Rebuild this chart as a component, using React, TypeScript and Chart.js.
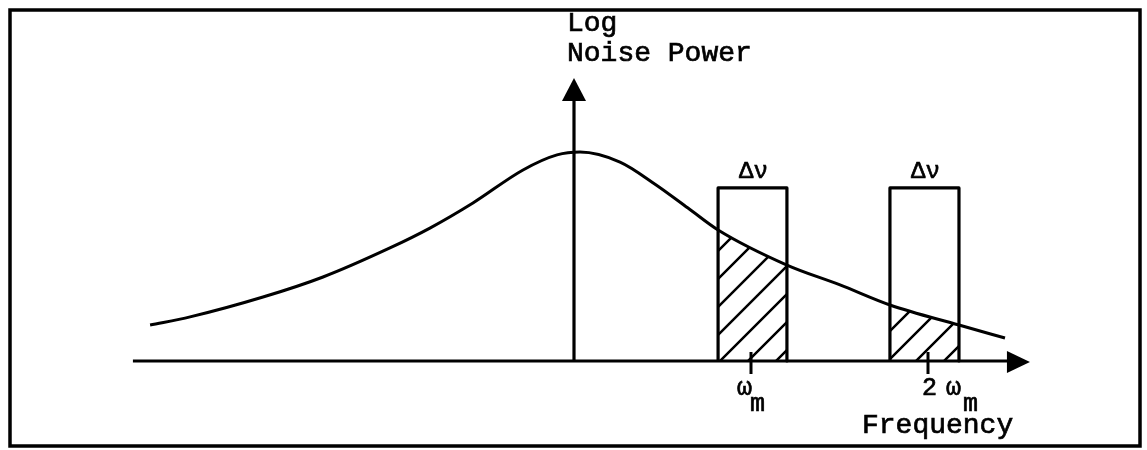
import React, { useEffect, useRef } from "react";
import { Chart, registerables } from "chart.js";

Chart.register(...registerables);

// Noise power spectrum (x in units of ω_m, y relative to peak)
const curveX = [-2.395, -2.169, -1.757, -1.418, -1.04, -0.814, -0.571, -0.288, -0.096, 0.034, 0.26, 0.458, 0.644, 0.814, 1.203, 1.503, 1.785, 2.175, 2.435];
const curveY = [0.172, 0.211, 0.306, 0.402, 0.541, 0.636, 0.756, 0.914, 0.986, 1.0, 0.952, 0.846, 0.732, 0.627, 0.459, 0.364, 0.268, 0.172, 0.11];

// Detection bandwidth windows Δν
const boxStarts = [0.814, 1.785];
const boxEnds = [1.203, 2.175];
const boxTop = 0.828;

// Axis extents
const xAxisStart = -2.492;
const xAxisEnd = 2.576;
const yAxisEnd = 1.354;

// Tick positions on frequency axis
const tickValues = [1, 2];

const W = 1147;
const H = 450;
const X0PX = 574;
const XUNIT = 177;
const Y0PX = 361;
const YUNIT = 209;

const MONO = '"Liberation Mono", "DejaVu Sans Mono", monospace';

export default function App() {
  const ref = useRef<HTMLCanvasElement | null>(null);

  useEffect(() => {
    const canvas = ref.current;
    if (!canvas) return;

    const curveData = curveX.map((x, i) => ({ x, y: curveY[i] }));
    const boxDatasets = boxStarts.map((s, i) => ({
      label: "box" + i,
      data: [
        { x: s, y: 0 },
        { x: s, y: boxTop },
        { x: boxEnds[i], y: boxTop },
        { x: boxEnds[i], y: 0 },
      ],
      borderColor: "#000",
      borderWidth: 3.2,
      borderJoinStyle: "round" as const,
      pointRadius: 0,
      tension: 0,
      fill: false,
    }));

    const drawText = (ctx: CanvasRenderingContext2D, t: string, x: number, y: number) => {
      ctx.fillText(t, x, y);
      ctx.strokeText(t, x, y);
    };

    const diagramPlugin = {
      id: "diagram",
      beforeDatasetsDraw(chart: any) {
        const ctx = chart.ctx as CanvasRenderingContext2D;
        const xs = chart.scales.x;
        const ys = chart.scales.y;
        const meta = chart.getDatasetMeta(0);
        const line = meta.dataset;
        if (line && typeof line.updateControlPoints === "function") {
          line.updateControlPoints(chart.chartArea, "x");
        }
        const pts = meta.data;
        const base = ys.getPixelForValue(0);
        boxStarts.forEach((s, i) => {
          const left = xs.getPixelForValue(s);
          const right = xs.getPixelForValue(boxEnds[i]);
          ctx.save();
          ctx.beginPath();
          ctx.rect(left, 0, right - left, base);
          ctx.clip();
          ctx.beginPath();
          ctx.moveTo(pts[0].x, pts[0].y);
          for (let k = 1; k < pts.length; k++) {
            const p = pts[k - 1];
            const q = pts[k];
            if (p.cp2x !== undefined && q.cp1x !== undefined) {
              ctx.bezierCurveTo(p.cp2x, p.cp2y, q.cp1x, q.cp1y, q.x, q.y);
            } else {
              ctx.lineTo(q.x, q.y);
            }
          }
          ctx.lineTo(pts[pts.length - 1].x, base);
          ctx.lineTo(pts[0].x, base);
          ctx.closePath();
          ctx.clip();
          ctx.strokeStyle = "#000";
          ctx.lineWidth = 2.5;
          ctx.beginPath();
          for (let c = 997 - 28 * 10; c < 1600; c += 28) {
            ctx.moveTo(c - 120, 120);
            ctx.lineTo(c - 400, 400);
          }
          ctx.stroke();
          ctx.restore();
        });
      },
      afterDatasetsDraw(chart: any) {
        const ctx = chart.ctx as CanvasRenderingContext2D;
        const xs = chart.scales.x;
        const ys = chart.scales.y;
        const base = ys.getPixelForValue(0);
        const x0 = xs.getPixelForValue(0);
        ctx.save();
        ctx.fillStyle = "#000";
        ctx.strokeStyle = "#000";

        // arrowheads
        const tipX = xs.getPixelForValue(xAxisEnd);
        ctx.beginPath();
        ctx.moveTo(tipX, base + 1);
        ctx.lineTo(tipX - 23, base - 10);
        ctx.lineTo(tipX - 23, base + 12);
        ctx.closePath();
        ctx.fill();
        const tipY = ys.getPixelForValue(yAxisEnd);
        ctx.beginPath();
        ctx.moveTo(x0, tipY);
        ctx.lineTo(x0 - 12, tipY + 23);
        ctx.lineTo(x0 + 12, tipY + 23);
        ctx.closePath();
        ctx.fill();

        // ticks
        ctx.lineWidth = 3;
        tickValues.forEach((v) => {
          const px = xs.getPixelForValue(v);
          ctx.beginPath();
          ctx.moveTo(px, base - 9);
          ctx.lineTo(px, base + 13);
          ctx.stroke();
        });

        // texts
        ctx.lineWidth = 0.7;
        ctx.textBaseline = "alphabetic";
        ctx.textAlign = "left";
        ctx.font = `28px ${MONO}`;
        drawText(ctx, "Log", x0 - 7, 31);
        drawText(ctx, "Noise Power", x0 - 7, 61);
        drawText(ctx, "Frequency", 862, 433);

        ctx.font = `24px ${MONO}`;
        boxStarts.forEach((s, i) => {
          const mid = (xs.getPixelForValue(s) + xs.getPixelForValue(boxEnds[i])) / 2;
          ctx.textAlign = "center";
          drawText(ctx, "Δν", mid + 1, 178);
        });
        ctx.textAlign = "left";

        const t1 = xs.getPixelForValue(tickValues[0]);
        const t2 = xs.getPixelForValue(tickValues[1]);
        ctx.font = `25px ${MONO}`;
        drawText(ctx, "ω", t1 - 14, 395);
        drawText(ctx, "m", t1 - 1, 411);
        drawText(ctx, "2", t2 - 6, 395);
        drawText(ctx, "ω", t2 + 18, 395);
        drawText(ctx, "m", t2 + 35, 411);

        // frame
        ctx.lineWidth = 3.5;
        ctx.strokeRect(10, 10, 1130, 436);
        ctx.restore();
      },
    };

    const chart = new Chart(canvas, {
      type: "line",
      data: {
        datasets: [
          {
            label: "noise",
            data: curveData,
            borderColor: "#000",
            borderWidth: 3,
            pointRadius: 0,
            cubicInterpolationMode: "monotone",
            fill: false,
          },
          ...boxDatasets,
          {
            label: "xaxis",
            data: [
              { x: xAxisStart, y: 0 },
              { x: xAxisEnd - 0.1, y: 0 },
            ],
            borderColor: "#000",
            borderWidth: 3.2,
            pointRadius: 0,
            fill: false,
          },
          {
            label: "yaxis",
            data: [
              { x: 0, y: 0 },
              { x: 0, y: yAxisEnd - 0.08 },
            ],
            borderColor: "#000",
            borderWidth: 3.2,
            pointRadius: 0,
            fill: false,
          },
        ],
      },
      options: {
        responsive: false,
        animation: false,
        devicePixelRatio: 1,
        layout: { padding: 0 },
        plugins: {
          legend: { display: false },
          tooltip: { enabled: false },
          title: { display: false },
        },
        scales: {
          x: {
            type: "linear",
            display: false,
            min: -X0PX / XUNIT,
            max: (W - X0PX) / XUNIT,
          },
          y: {
            type: "linear",
            display: false,
            min: (Y0PX - H) / YUNIT,
            max: Y0PX / YUNIT,
          },
        },
      },
      plugins: [diagramPlugin],
    });

    return () => chart.destroy();
  }, []);

  return (
    <>
      <style>{`body{margin:0;background:#fff}`}</style>
      <canvas ref={ref} width={W} height={H} style={{ display: "block", width: W, height: H }} />
    </>
  );
}
